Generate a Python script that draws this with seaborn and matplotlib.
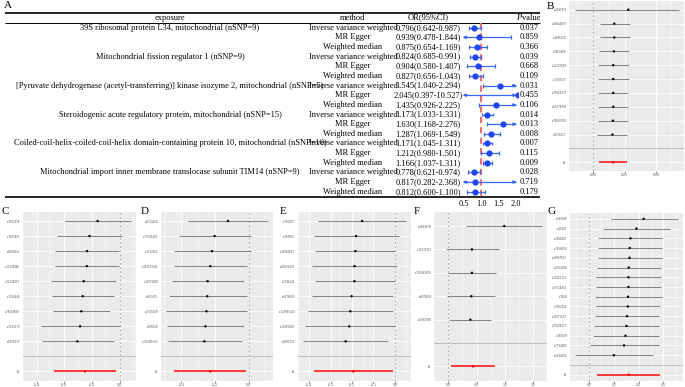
import matplotlib
matplotlib.use("Agg")
import matplotlib.pyplot as plt
import numpy as np
import pandas as pd
import seaborn as sns

W, H = 685, 387
SERIF = ["Liberation Serif", "DejaVu Serif"]

# ---- panel A: MR estimates table ----
exposures = [
    "39S ribosomal protein L34, mitochondrial (nSNP=9)",
    "Mitochondrial fission regulator 1 (nSNP=9)",
    "[Pyruvate dehydrogenase (acetyl-transferring)] kinase isozyme 2, mitochondrial (nSNP=5)",
    "Steroidogenic acute regulatory protein, mitochondrial (nSNP=15)",
    "Coiled-coil-helix-coiled-coil-helix domain-containing protein 10, mitochondrial (nSNP=10)",
    "Mitochondrial import inner membrane translocase subunit TIM14 (nSNP=9)",
]
methods = ["Inverse variance weighted", "MR Egger", "Weighted median"]
or_est = [0.796, 0.939, 0.875, 0.824, 0.904, 0.827, 1.545, 2.045, 1.435,
          1.173, 1.630, 1.287, 1.171, 1.212, 1.166, 0.778, 0.817, 0.812]
or_lo = [0.642, 0.478, 0.654, 0.685, 0.580, 0.656, 1.040, 0.397, 0.926,
         1.033, 1.168, 1.069, 1.045, 0.980, 1.037, 0.621, 0.282, 0.600]
or_hi = [0.987, 1.844, 1.169, 0.991, 1.407, 1.043, 2.294, 10.527, 2.225,
         1.331, 2.276, 1.549, 1.311, 1.501, 1.311, 0.974, 2.368, 1.100]
p_vals = ["0.037", "0.859", "0.366", "0.039", "0.668", "0.109", "0.031", "0.455", "0.106",
          "0.014", "0.013", "0.008", "0.007", "0.115", "0.009", "0.028", "0.719", "0.179"]
forest_ticks = [0.5, 1.0, 1.5, 2.0]

# ---- panels B-G: leave-one-out (beta, 95% CI) ----
b_snps = ["rs4040719", "rs58942073", "rs4485220", "rs7653456", "rs12131568",
          "rs1150217", "rs75825177", "rs55378708", "rs78587453", "rs9725017"]
b_est = [0.280, 0.168, 0.168, 0.165, 0.160, 0.160, 0.160, 0.160, 0.157, 0.154]
b_lo = [-0.150, 0.051, 0.051, 0.045, 0.037, 0.037, 0.037, 0.037, 0.037, 0.032]
b_hi = [0.684, 0.290, 0.290, 0.285, 0.285, 0.285, 0.280, 0.280, 0.280, 0.272]
b_all = [0.158, 0.044, 0.271]

c_snps = ["rs7632076", "rs1565801", "rs6054635", "rs17526946", "rs11434037",
          "rs1134246", "rs76119668", "rs7523175", "rs6278137"]
c_est = [-0.159, -0.218, -0.235, -0.237, -0.260, -0.267, -0.277, -0.286, -0.305]
c_lo = [-0.398, -0.451, -0.466, -0.468, -0.493, -0.489, -0.483, -0.567, -0.563]
c_hi = [0.085, 0.019, -0.002, -0.002, -0.028, -0.044, -0.070, 0.000, -0.044]
c_all = [-0.251, -0.476, -0.026]

d_snps = ["rs6714224", "rs72741403", "rs7372351", "rs151572291", "rs11035020",
          "rs875473", "rs2315529", "rs976156", "rs135365763"]
d_est = [-0.123, -0.202, -0.218, -0.228, -0.244, -0.246, -0.251, -0.257, -0.263]
d_lo = [-0.362, -0.416, -0.442, -0.446, -0.455, -0.475, -0.491, -0.485, -0.481]
d_hi = [0.115, 0.014, 0.014, -0.010, -0.026, -0.010, -0.010, -0.026, -0.040]
d_all = [-0.228, -0.443, -0.013]

e_snps = ["rs750207", "rs764955", "rs10583027", "rs35032419", "rs2046126",
          "rs6176624", "rs113945350", "rs19492058", "rs8931013"]
e_est = [-0.153, -0.181, -0.184, -0.188, -0.189, -0.202, -0.208, -0.213, -0.230]
e_lo = [-0.359, -0.380, -0.372, -0.386, -0.375, -0.389, -0.406, -0.422, -0.430]
e_hi = [0.050, 0.019, 0.000, 0.011, 0.000, -0.011, -0.008, 0.000, -0.031]
e_all = [-0.194, -0.378, -0.009]

f_snps = ["rs4843578", "rs11537437", "rs115091875", "rs6070204", "rs5381708"]
f_est = [0.990, 0.417, 0.417, 0.406, 0.389]
f_lo = [0.320, -0.044, -0.011, -0.017, 0.017]
f_hi = [1.667, 0.889, 0.850, 0.833, 0.761]
f_all = [0.435, 0.039, 0.830]

g_snps = ["rs580098", "rs42561", "rs2456047", "rs7556810", "rs58367529",
          "rs2352509", "rs11052123", "rs17724452", "rs7618", "rs7954014",
          "rs10071317", "rs73508217", "rs181539", "rs7734080", "rs3644052"]
g_est = [0.220, 0.191, 0.167, 0.164, 0.163, 0.160, 0.159, 0.159, 0.157, 0.156,
         0.153, 0.151, 0.147, 0.141, 0.100]
g_lo = [0.087, 0.058, 0.038, 0.037, 0.035, 0.033, 0.030, 0.030, 0.023, 0.030,
        0.026, 0.022, 0.014, 0.003, -0.056]
g_hi = [0.358, 0.327, 0.296, 0.294, 0.293, 0.290, 0.290, 0.289, 0.294, 0.286,
        0.282, 0.281, 0.281, 0.280, 0.258]
g_all = [0.160, 0.032, 0.286]


def px_axes(fig, l, t, r, b):
    return fig.add_axes([l / W, 1 - b / H, (r - l) / W, (b - t) / H])


def panel_a(fig):
    # rows are placed in "row units": row i sits at y=i
    ylim = (17.6, -2.87)
    tab = px_axes(fig, 0, 0, 545, 197.5)
    tab.set_xlim(0, 545)
    tab.set_ylim(*ylim)
    tab.axis("off")
    txt = dict(fontsize=6, family=SERIF, va="center")
    tab.text(170, -1.04, "exposure", ha="center", **txt)
    tab.text(353, -1.04, "method", ha="center", **txt)
    tab.text(428, -1.04, "OR(95%CI)", ha="center", **txt)
    tab.text(521.5, -1.04, "P", ha="right", style="italic", **txt)
    tab.text(522, -1.04, "value", ha="left", **txt)
    for k, name in enumerate(exposures):
        tab.text(170, 3 * k, name, ha="center", **txt)
    for i in range(len(or_est)):
        tab.text(353, i, methods[i % 3], ha="center", **txt)
        tab.text(428, i, f"{or_est[i]:.3f}({or_lo[i]:.3f}-{or_hi[i]:.3f})", ha="center", **txt)
        tab.text(529, i, p_vals[i], ha="center", **txt)
    tab.hlines([-1.49, 17.56], 5, 540, colors="black", lw=1.2, clip_on=False)
    tab.hlines([-0.52], 5, 540, colors="black", lw=0.7)

    # forest strip on the OR scale
    lo_lim, hi_lim = 0.5, 2.0
    fx = px_axes(fig, 462.27, 0, 517.7, 197.5)
    fx.set_xlim(0.45, 2.05)
    fx.set_ylim(*ylim)
    fx.patch.set_alpha(0)
    for s in fx.spines.values():
        s.set_visible(False)
    fx.set_yticks([])
    fx.set_xticks(forest_ticks)
    fx.set_xticklabels([f"{t:.1f}" for t in forest_ticks], fontsize=6, family=SERIF)
    fx.tick_params(axis="x", length=0, pad=2)
    fx.vlines(1.0, -0.5, 17.55, colors="#F07070", linestyles=(0, (3, 2)), lw=1.5, zorder=1)
    line_c, pt_c = "#3A64F2", "#1F45F5"
    rows = np.arange(len(or_est))
    for i in rows:
        lo_c = max(or_lo[i], lo_lim)
        hi_c = min(or_hi[i], hi_lim)
        fx.hlines(i, lo_c, hi_c, colors=line_c, lw=0.9, zorder=2)
        if or_lo[i] < lo_lim:
            fx.annotate("", xy=(0.46, i), xytext=(0.6, i),
                        arrowprops=dict(arrowstyle="-|>", color=line_c, lw=0.9,
                                        mutation_scale=4, shrinkA=0, shrinkB=0))
        else:
            fx.vlines(or_lo[i], i - 0.2, i + 0.2, colors=line_c, lw=0.9, zorder=2)
        if or_hi[i] > hi_lim:
            fx.annotate("", xy=(2.02, i), xytext=(1.9, i),
                        arrowprops=dict(arrowstyle="-|>", color=line_c, lw=0.9,
                                        mutation_scale=4, shrinkA=0, shrinkB=0))
        else:
            fx.vlines(or_hi[i], i - 0.2, i + 0.2, colors=line_c, lw=0.9, zorder=2)
    sns.scatterplot(x=or_est, y=rows, color=pt_c, s=20, linewidth=0, ax=fx, zorder=3)
    fx.set_xlabel("")
    fx.set_ylabel("")
    fig.text(7.5 / W, 1 - 5.5 / H, "A", ha="center", va="center", fontsize=8, family=SERIF)


def loo_panel(fig, box, letter, letter_xy, snps, est, lo, hi, all_row, ticks, fmt):
    ax = px_axes(fig, *box)
    n = len(snps)
    df = pd.DataFrame({
        "SNP": snps + ["All"],
        "b": est + [all_row[0]],
        "lo": lo + [all_row[1]],
        "up": hi + [all_row[2]],
        "pos": list(range(n)) + [n + 1],
        "tot": ["snp"] * n + ["all"],
    })
    ax.set_facecolor("#EBEBEB")
    xmin, xmax = df["lo"].min(), df["up"].max()
    pad = 0.05 * (xmax - xmin)
    ax.set_xlim(xmin - pad, xmax + pad)
    ax.set_ylim(n + 1.6, -0.6)
    step = ticks[1] - ticks[0]
    ax.set_xticks(ticks)
    ax.set_xticklabels([fmt.format(t) for t in ticks])
    ax.set_xticks(np.arange(ticks[0] - step / 2, xmax + pad, step), minor=True)
    ax.set_yticks(list(range(n)) + [n, n + 1])
    ax.set_yticklabels(snps + ["", "All"])
    ax.grid(which="major", color="white", lw=0.6)
    ax.grid(which="minor", axis="x", color="white", lw=0.3)
    ax.set_axisbelow(True)
    for s in ax.spines.values():
        s.set_visible(False)
    ax.tick_params(axis="x", which="major", length=1.2, width=0.4, color="#333333",
                   labelsize=2.2, labelcolor="#4D4D4D", pad=0.8)
    ax.tick_params(axis="x", which="minor", length=0)
    ax.tick_params(axis="y", length=0, labelsize=1.8, labelcolor="#4D4D4D", pad=2)
    ax.axvline(0, color="#999999", ls=(0, (3, 3)), lw=0.5, zorder=1)
    ax.axhline(n, color="#BEBEBE", lw=0.7, zorder=1)
    snp = df[df["tot"] == "snp"]
    tot = df[df["tot"] == "all"]
    ax.hlines(snp["pos"], snp["lo"], snp["up"], colors="#6E6E6E", lw=0.6, zorder=2)
    ax.hlines(tot["pos"], tot["lo"], tot["up"], colors="#FF2A2A", lw=1.3, zorder=2)
    sns.scatterplot(data=df, x="b", y="pos", hue="tot", palette={"snp": "black", "all": "red"},
                    s=3, linewidth=0, legend=False, ax=ax, zorder=3)
    ax.set_xlabel("")
    ax.set_ylabel("")
    fig.text(letter_xy[0] / W, 1 - letter_xy[1] / H, letter, ha="center", va="center",
             fontsize=8, family=SERIF)


def main():
    fig = plt.figure(figsize=(W / 100, H / 100), dpi=100)
    fig.patch.set_facecolor("white")
    panel_a(fig)
    loo_panel(fig, (569.3, 1.4, 684, 170.6), "B", (550, 6.7), b_snps, b_est, b_lo, b_hi, b_all,
              [0.0, 0.25, 0.5], "{:.2f}")
    loo_panel(fig, (22.7, 212, 136, 380.5), "C", (5.7, 212), c_snps, c_est, c_lo, c_hi, c_all,
              [-0.6, -0.4, -0.2, 0.0], "{:.1f}")
    loo_panel(fig, (161, 212, 273, 380.5), "D", (145, 212), d_snps, d_est, d_lo, d_hi, d_all,
              [-0.4, -0.2, 0.0], "{:.1f}")
    loo_panel(fig, (297.7, 212, 410.7, 380.5), "E", (282.7, 212), e_snps, e_est, e_lo, e_hi, e_all,
              [-0.4, -0.3, -0.2, -0.1, 0.0], "{:.1f}")
    loo_panel(fig, (434.3, 212, 547.3, 380.5), "F", (417, 212), f_snps, f_est, f_lo, f_hi, f_all,
              [0.0, 0.5, 1.0, 1.5], "{:.1f}")
    loo_panel(fig, (570, 213, 683, 380.5), "G", (551, 212), g_snps, g_est, g_lo, g_hi, g_all,
              [0.0, 0.1, 0.2, 0.3], "{:.1f}")
    fig.savefig("out.png", dpi=100)
    plt.close(fig)


if __name__ == "__main__":
    main()
